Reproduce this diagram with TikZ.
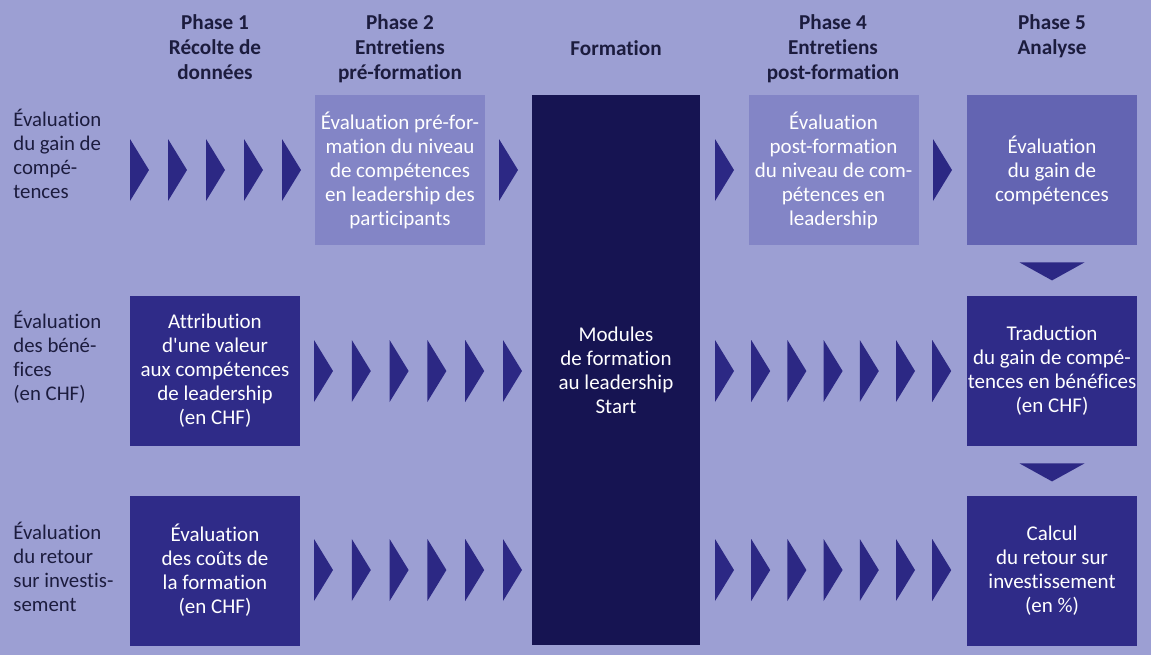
\documentclass[tikz,border=0pt]{standalone}
\usepackage{fontspec}
\setmainfont{Carlito}[Ligatures={TeX,NoCommon}]
\definecolor{bgc}{RGB}{156,159,211}
\definecolor{lightbox}{RGB}{131,133,198}
\definecolor{midbox}{RGB}{99,100,178}
\definecolor{darkbox}{RGB}{47,43,136}
\definecolor{navybox}{RGB}{22,20,82}
\definecolor{chevc}{RGB}{44,40,132}
\definecolor{labc}{RGB}{28,28,62}
\tikzset{
  boxbase/.style={rectangle, inner sep=0pt, align=center, text=white,
    font=\fontsize{10.5}{12}\selectfont, minimum width=85pt, minimum height=75pt},
  lbox/.style={boxbase, fill=lightbox},
  mbox/.style={boxbase, fill=midbox},
  dbox/.style={boxbase, fill=darkbox},
  fbox/.style={boxbase, fill=navybox, minimum width=84pt, minimum height=275pt},
  head/.style={align=center, text=labc, inner sep=0pt, font=\bfseries\fontsize{10.6}{12.5}\selectfont},
  rowlab/.style={align=left, text=labc, inner sep=0pt, anchor=north west, font=\fontsize{10.4}{12}\selectfont},
  chev/.style={fill=chevc},
}
\newcommand{\chevron}[2]{\fill[chev] (#1,#2-31) -- (#1+19,#2) -- (#1,#2+31) -- cycle;}
\begin{document}
\begin{tikzpicture}[x=0.5pt,y=-0.5pt]
\fill[bgc] (0,0) rectangle (1151,655);
\useasboundingbox (0,0) rectangle (1151,655);

% headers
\node[head, anchor=north] (h1) at (215,14) {Phase 1\\Récolte de\\données};
\node[head, anchor=north] (h2) at (400,14) {Phase 2\\Entretiens\\pré-formation};
\node[head] (hf) at (616,48) {Formation};
\node[head, anchor=north] (h4) at (833,14) {Phase 4\\Entretiens\\post-formation};
\node[head, anchor=north] (h5) at (1052,14) {Phase 5\\Analyse};

% row labels
\node[rowlab] (r1) at (13,109) {Évaluation\\du gain de\\compé-\\tences};
\node[rowlab] (r2) at (13,311) {Évaluation\\des béné-\\fices\\(en CHF)};
\node[rowlab] (r3) at (13,522) {Évaluation\\du retour\\sur investis-\\sement};

% boxes
\node[lbox] (p2) at (400,170) {Évaluation pré-for-\\mation du niveau\\de compétences\\en leadership des\\participants};
\node[fbox] (form) at (616,370) {Modules\\de formation\\au leadership\\Start};
\node[lbox] (p4) at (833.5,170) {Évaluation\\post-formation\\du niveau de com-\\pétences en\\leadership};
\node[mbox] (p5a) at (1052,170) {Évaluation\\du gain de\\compétences};
\node[dbox] (p1b) at (215,371) {Attribution\\d\textquotesingle une valeur\\aux compétences\\de leadership\\(en CHF)};
\node[dbox] (p5b) at (1052,371) {Traduction\\du gain de compé-\\tences en bénéfices\\(en CHF)};
\node[dbox] (p1c) at (215,570.5) {Évaluation\\des coûts de\\la formation\\(en CHF)};
\node[dbox] (p5c) at (1052,570.5) {Calcul\\du retour sur\\investissement\\(en \%)};

% chevrons row 1
\foreach \x in {130,168,206,244,282,499,715,933} {\chevron{\x}{170}}
% chevrons rows 2 and 3
\foreach \y in {371,570} {
  \foreach \i in {0,...,5} {\chevron{314+37.8*\i}{\y}}
  \foreach \i in {0,...,6} {\chevron{715+36.2*\i}{\y}}
}
% down triangles
\fill[chev] ([xshift=-16.25pt,yshift=-8.5pt]p5a.south) -- ([xshift=16.25pt,yshift=-8.5pt]p5a.south) -- ([yshift=-17.5pt]p5a.south) -- cycle;
\fill[chev] ([xshift=-16.25pt,yshift=-8.5pt]p5b.south) -- ([xshift=16.25pt,yshift=-8.5pt]p5b.south) -- ([yshift=-17.5pt]p5b.south) -- cycle;
\end{tikzpicture}
\end{document}
